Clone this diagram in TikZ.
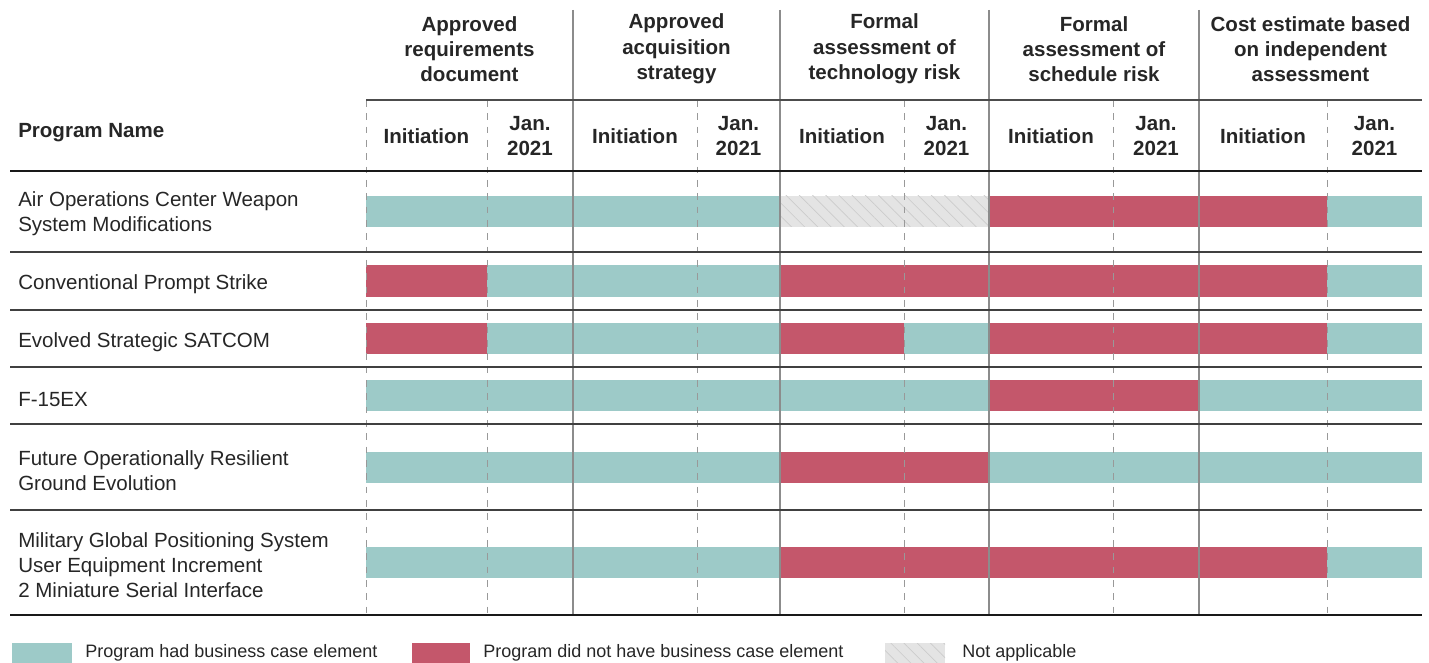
\documentclass[tikz,border=0pt]{standalone}
\usepackage{fontspec}
\setmainfont{Liberation Sans}
\usetikzlibrary{patterns.meta}

\definecolor{hadcol}{RGB}{143,195,192}
\definecolor{notcol}{RGB}{188,64,86}
\definecolor{nacol}{RGB}{224,224,224}

\tikzset{
  cellt/.style={fill=hadcol,fill opacity=0.88},
  cellr/.style={fill=notcol,fill opacity=0.88},
  celln/.style={fill=nacol,fill opacity=0.88,
    postaction={pattern={Lines[angle=-45,distance=7pt,line width=0.5pt]},pattern color=black!20}},
  grouphead/.style={font=\fontsize{15.4}{19}\selectfont\bfseries,align=center,inner sep=0pt,text=black!85},
  subhead/.style={font=\fontsize{15.4}{18.5}\selectfont\bfseries,align=center,inner sep=0pt,text=black!85},
  rowlabel/.style={font=\fontsize{15.4}{18.8}\selectfont,align=left,anchor=west,inner sep=0pt,text=black!85},
  legtext/.style={font=\fontsize{13.5}{16}\selectfont,anchor=west,inner sep=0pt,text=black!85},
  sepline/.style={draw=black!45,line width=1.1pt},
  midline/.style={draw=black!40,line width=0.6pt,dash pattern=on 5pt off 5pt},
  rowline/.style={draw=black!75,line width=0.9pt}
}

\def\bounds{366,487,573,697,780,904,989,1113,1199,1327,1422}
\newcommand\statusrow[2]{%
  \foreach \c [count=\i] in {#2} {
    \pgfmathsetmacro\xa{{\bounds}[\i-1]}
    \pgfmathsetmacro\xb{{\bounds}[\i]}
    \fill[cell\c] (\xa,#1-15.5) rectangle (\xb,#1+15.5);
  }}

\begin{document}
\begin{tikzpicture}[x=0.75pt,y=-0.75pt]
  \useasboundingbox (0,0) rectangle (1429,663);

  % bars
  \statusrow{211.5}{t,t,t,t,n,n,r,r,r,t}
  \statusrow{281}{r,t,t,t,r,r,r,r,r,t}
  \statusrow{338}{r,t,t,t,r,t,r,r,r,t}
  \statusrow{395.5}{t,t,t,t,t,t,r,r,t,t}
  \statusrow{467}{t,t,t,t,r,r,t,t,t,t}
  \statusrow{562.5}{t,t,t,t,r,r,r,r,r,t}

  % grid
  \foreach \x in {573,780,989,1199}
    \draw[sepline] (\x,10) -- (\x,615);
  \foreach \x in {366,487,697,904,1113,1327}
    \draw[midline] (\x,100) -- (\x,615);
  \draw[draw=black!70,line width=1pt] (366,100) -- (1422,100);
  \draw[draw=black!90,line width=1.4pt] (10,171) -- (1422,171);
  \foreach \y in {252,310,367,424,510}
    \draw[rowline] (10,\y) -- (1422,\y);
  \draw[draw=black!90,line width=2pt] (10,615) -- (1422,615);

  % column headers
  \node[grouphead] (grp1) at (469.5,49) {Approved\\requirements\\document};
  \node[grouphead] (grp2) at (676.5,49) {Approved\\acquisition\\strategy};
  \node[grouphead] (grp3) at (884.5,49) {Formal\\assessment of\\technology risk};
  \node[grouphead] (grp4) at (1094,49) {Formal\\assessment of\\schedule risk};
  \node[grouphead] (grp5) at (1310.5,49) {Cost estimate based\\on independent\\assessment};

  \node[rowlabel,font=\fontsize{15.4}{18.8}\selectfont\bfseries] (pname) at (18,133) {Program Name};
  \foreach \xi/\xj [count=\k] in {426.5/530,635/738.5,842/946.5,1051/1156,1263/1374.5} {
    \node[subhead] (ini\k) at (\xi,136) {Initiation};
    \node[subhead] (jan\k) at (\xj,136) {Jan.\\2021};
  }

  % program names
  \node[rowlabel] (prog1) at (18,214) {Air Operations Center Weapon\\System Modifications};
  \node[rowlabel] (prog2) at (18,284.5) {Conventional Prompt Strike};
  \node[rowlabel] (prog3) at (18,342) {Evolved Strategic SATCOM};
  \node[rowlabel] (prog4) at (18,399.5) {F-15EX};
  \node[rowlabel] (prog5) at (18,470.5) {Future Operationally Resilient\\Ground Evolution};
  \node[rowlabel] (prog6) at (18,565.5) {Military Global Positioning System\\User Equipment Increment\\2 Miniature Serial Interface};

  % legend
  \fill[cellt] (12,643) rectangle (72,663);
  \node[legtext] (keyhad) at (85,653) {Program had business case element};
  \fill[cellr] (412,643) rectangle (470,663);
  \node[legtext] (keynot) at (483,653) {Program did not have business case element};
  \fill[celln] (885,643) rectangle (945,663);
  \node[legtext] (keyna) at (962,653) {Not applicable};
\end{tikzpicture}
\end{document}
